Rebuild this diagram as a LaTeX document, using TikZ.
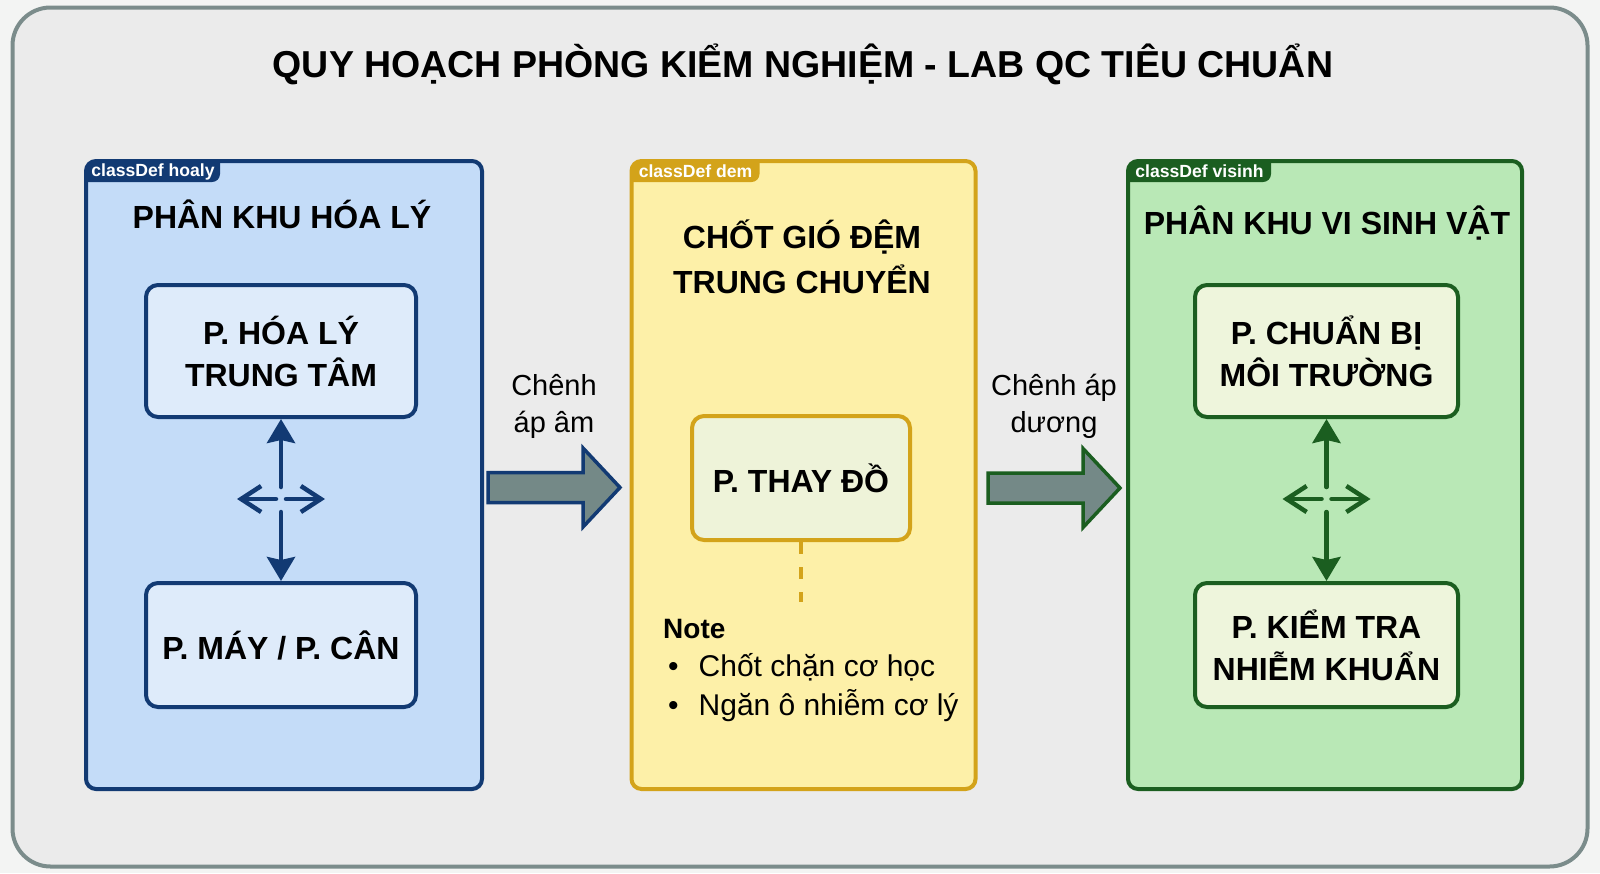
\documentclass[tikz,border=0pt]{standalone}
\usepackage{fontspec}
\setmainfont{Liberation Sans}
\usetikzlibrary{
    arrows.meta,
    calc,
    positioning
}
\definecolor{pagebg}{HTML}{F3F4F3}
\definecolor{framefill}{HTML}{EBEBEB}
\definecolor{frameline}{HTML}{7B8C8B}
\definecolor{hoalyline}{HTML}{123A73}
\definecolor{hoalyfill}{HTML}{C4DCF8}
\definecolor{hoalyroom}{HTML}{DEEBFA}
\definecolor{demline}{HTML}{D3A31A}
\definecolor{demfill}{HTML}{FDF0A8}
\definecolor{demroom}{HTML}{EEF3D9}
\definecolor{visinhline}{HTML}{1B5E20}
\definecolor{visinhfill}{HTML}{B9E8B6}
\definecolor{visinhroom}{HTML}{EEF5DC}
\definecolor{flowfill}{HTML}{748987}
\tikzset{
    % Frame and zones
    frame/.style={draw=frameline,fill=framefill,line width=4pt,rounded corners=38pt},
    zone/.style={rectangle,rounded corners=10pt,line width=4pt,outer sep=0pt,inner sep=0pt,minimum height=628pt},
    tag/.style={text=white,inner sep=0pt,font=\bfseries\fontsize{17.6}{20}\selectfont},
    heading/.style={align=center,inner sep=0pt,font=\bfseries\fontsize{32}{45}\selectfont},
    title/.style={inner sep=0pt,font=\bfseries\fontsize{37.5}{45}\selectfont},
    %
    % Rooms
    room/.style={rectangle,rounded corners=12pt,line width=4pt,align=center,inner sep=0pt,
        font=\bfseries\fontsize{32}{42}\selectfont},
    %
    % Arrows
    fill tip/.tip={Stealth[length=24pt,width=28pt,inset=3pt]},
    barb tip/.tip={Straight Barb[length=20pt,width=26pt]},
    link/.style={line width=4.5pt,line cap=round},
    big arrow/.style={fill=flowfill,line width=3.5pt,line join=miter},
    flow label/.style={align=center,inner sep=0pt,font=\fontsize{29}{37}\selectfont},
    dem dash/.style={draw=demline,line width=4pt,dash pattern=on 12pt off 13pt}
}
\newcommand{\bigarrow}[3]{%
    \draw[big arrow,draw=#3] let \p1=(#1), \p2=(#2) in
        (\x1,{\y1+15pt}) -- ({\x2-37pt},{\y1+15pt}) -- ({\x2-37pt},{\y1+39.5pt}) -- (\x2,\y1)
        -- ({\x2-37pt},{\y1-39.5pt}) -- ({\x2-37pt},{\y1-15pt}) -- (\x1,{\y1-15pt}) -- cycle;}

\begin{document}
\begin{tikzpicture}[x=1pt,y=-1pt]
    \fill[pagebg] (0,0) rectangle (1600,873);
    \useasboundingbox (0,0) rectangle (1600,873);
    \draw[frame] (12.5,7.5) rectangle (1587.5,866.5);

    \node[title,anchor=base] (title) at (803,77) {QUY HOẠCH PHÒNG KIỂM NGHIỆM - LAB QC TIÊU CHUẨN};

    % zones
    \node[zone,draw=hoalyline,fill=hoalyfill,minimum width=396pt] (hoaly) at (284,475) {};
    \node[zone,draw=demline,fill=demfill,minimum width=344pt] (dem) at (803.5,475) {};
    \node[zone,draw=visinhline,fill=visinhfill,minimum width=394pt] (visinh) at (1325,475) {};

    \foreach \z/\w in {hoaly/134,dem/128,visinh/143}{
        \begin{scope}
            \clip[rounded corners=10pt] (\z.north west) rectangle (\z.south east);
            \fill[\z line,rounded corners=8pt] ([shift={(-12,-12)}]\z.north west) rectangle ([shift={(\w,21)}]\z.north west);
        \end{scope}
        \node[tag] (\z-tag) at ([shift={(\w/2,10.5)}]\z.north west) {classDef \z};
    }

    \node[heading,anchor=base] (hoaly-head) at (282,228) {PHÂN KHU HÓA LÝ};
    \node[heading] (dem-head) at (802,256.5) {CHỐT GIÓ ĐỆM\\TRUNG CHUYỂN};
    \node[heading,anchor=base] (visinh-head) at (1327,234) {PHÂN KHU VI SINH VẬT};

    % rooms
    \node[room,draw=hoalyline,fill=hoalyroom,minimum width=270pt,minimum height=132pt] (hoaly-top) at (281,351) {P. HÓA LÝ\\TRUNG TÂM};
    \node[room,draw=hoalyline,fill=hoalyroom,minimum width=270pt,minimum height=124pt] (hoaly-bot) at (281,645) {P. MÁY / P. CÂN};
    \node[room,draw=demline,fill=demroom,minimum width=218pt,minimum height=124pt] (dem-room) at (801,478) {P. THAY ĐỒ};
    \node[room,draw=visinhline,fill=visinhroom,minimum width=263pt,minimum height=132pt] (visinh-top) at (1326.5,351) {P. CHUẨN BỊ\\MÔI TRƯỜNG};
    \node[room,draw=visinhline,fill=visinhroom,minimum width=263pt,minimum height=124pt] (visinh-bot) at (1326.5,645) {P. KIỂM TRA\\NHIỄM KHUẨN};

    % two-way links inside the zones
    \coordinate (hoaly-mid) at (281,499);
    \coordinate (visinh-mid) at (1326.5,499);
    \foreach \z in {hoaly,visinh}{
        \draw[link,\z line,-{fill tip}] ([yshift=12pt]\z-mid) -- (\z-top);
        \draw[link,\z line,-{fill tip}] ([yshift=-13pt]\z-mid) -- (\z-bot);
        \draw[link,\z line,-{barb tip}] ([xshift=-5pt]\z-mid) -- ([xshift=-44pt]\z-mid);
        \draw[link,\z line,-{barb tip}] ([xshift=5pt]\z-mid) -- ([xshift=44pt]\z-mid);
    }

    % pressure flow between zones
    \coordinate (flow1-start) at (488,487.5);
    \coordinate (flow1-end) at (620,487.5);
    \coordinate (flow2-start) at (988,488);
    \coordinate (flow2-end) at (1120,488);
    \bigarrow{flow1-start}{flow1-end}{hoalyline}
    \bigarrow{flow2-start}{flow2-end}{visinhline}
    \node[flow label] (flow1-label) at (554,406) {Chênh\\áp âm};
    \node[flow label] (flow2-label) at (1054,406) {Chênh áp\\dương};

    % note
    \coordinate (dem-note-top) at (801,602);
    \draw[dem dash] (dem-room) -- (dem-note-top);
    \node[anchor=base west,inner sep=0pt,font=\fontsize{30}{38.5}\selectfont] (dem-note) at (663,638)
        {\begin{tabular}[t]{@{\hspace{5pt}}l@{\hspace{20pt}}l@{}}
            \multicolumn{2}{@{}l@{}}{\fontsize{28}{38.5}\bfseries Note}\\
            \textbullet & Chốt chặn cơ học\\
            \textbullet & Ngăn ô nhiễm cơ lý
        \end{tabular}};
\end{tikzpicture}
\end{document}
